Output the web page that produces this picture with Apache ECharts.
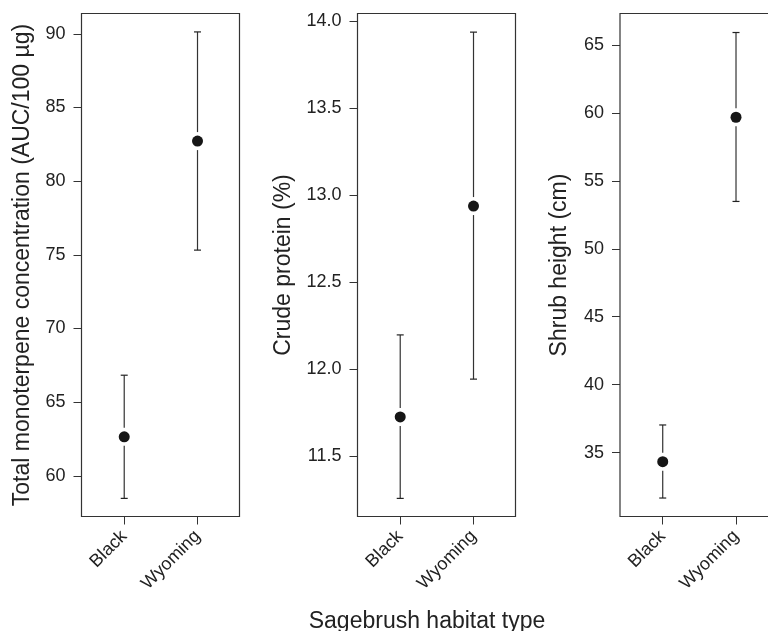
<!DOCTYPE html>
<html>
<head>
<meta charset="utf-8">
<script src="https://cdn.jsdelivr.net/npm/echarts@6/dist/echarts.min.js"></script>
<style>
    html, body { margin: 0; padding: 0; background: #fff; }
    #chart { width: 768px; height: 631px; }
</style>
</head>
<body>
<div id="chart"></div>
<script>
// habitat types, plotted at x = 1, 2
var categories = ['Black', 'Wyoming'];

// total monoterpene concentration (AUC/100 µg)
var monoMean = [62.65, 82.72];
var monoLow = [58.47, 75.32];
var monoHigh = [66.83, 90.13];
var monoTicks = [60, 65, 70, 75, 80, 85, 90];

// crude protein (%)
var proteinMean = [11.725, 12.936];
var proteinLow = [11.257, 11.942];
var proteinHigh = [12.196, 13.935];
var proteinTicks = [11.5, 12.0, 12.5, 13.0, 13.5, 14.0];

// shrub height (cm)
var heightMean = [34.33, 59.69];
var heightLow = [31.65, 53.49];
var heightHigh = [37.03, 65.93];
var heightTicks = [35, 40, 45, 50, 55, 60, 65];

var FONT = "'Liberation Sans', Arial, Helvetica, sans-serif";
var INK = '#222';

var myChart = echarts.init(document.getElementById('chart'));

function pointsOf(mean) {
    return mean.map(function (v, i) { return [i + 1, v]; });
}
function barsOf(mean, low, high) {
    return mean.map(function (v, i) { return [i + 1, v, low[i], high[i]]; });
}

// vertical error bar with a gap around the point and small caps
function renderBar(params, api) {
    var x = api.value(0);
    var pm = api.coord([x, api.value(1)]);
    var pl = api.coord([x, api.value(2)]);
    var ph = api.coord([x, api.value(3)]);
    var gap = 9, cap = 3.5;
    var style = { stroke: '#333', lineWidth: 1.2 };
    return {
        type: 'group',
        children: [
            { type: 'line', shape: { x1: pm[0], y1: ph[1], x2: pm[0], y2: pm[1] - gap }, style: style },
            { type: 'line', shape: { x1: pm[0], y1: pm[1] + gap, x2: pm[0], y2: pl[1] }, style: style },
            { type: 'line', shape: { x1: pm[0] - cap, y1: ph[1], x2: pm[0] + cap, y2: ph[1] }, style: { stroke: '#222', lineWidth: 1.2 } },
            { type: 'line', shape: { x1: pm[0] - cap, y1: pl[1], x2: pm[0] + cap, y2: pl[1] }, style: { stroke: '#222', lineWidth: 1.2 } }
        ]
    };
}

var panels = [
    { left: 81.5, name: 'Total monoterpene concentration (AUC/100 µg)', gap: 47, min: 57.24, max: 91.38,
      ticks: monoTicks, mean: monoMean, low: monoLow, high: monoHigh, fmt: function (v) { return String(v); } },
    { left: 357.5, name: 'Crude protein (%)', gap: 62, min: 11.153, max: 14.042,
      ticks: proteinTicks, mean: proteinMean, low: proteinLow, high: proteinHigh, fmt: function (v) { return v.toFixed(1); } },
    { left: 620, name: 'Shrub height (cm)', gap: 49, min: 30.29, max: 67.33,
      ticks: heightTicks, mean: heightMean, low: heightLow, high: heightHigh, fmt: function (v) { return String(v); } }
];

var grid = [], xAxis = [], yAxis = [], series = [];
panels.forEach(function (p, i) {
    grid.push({
        left: p.left, top: 13.5, width: 158, height: 503,
        outerBoundsMode: 'none', containLabel: false,
        show: true, borderColor: '#333', borderWidth: 1.2, backgroundColor: 'transparent'
    });
    xAxis.push({
        type: 'value', gridIndex: i, min: 0.417, max: 2.573,
        axisLine: { show: false },
        splitLine: { show: false },
        axisTick: { show: true, customValues: [1, 2], length: 8, lineStyle: { color: '#333' } },
        axisLabel: {
            customValues: [1, 2], rotate: 45, margin: 17,
            fontFamily: FONT, fontSize: 18, color: INK,
            formatter: function (v) { return categories[Math.round(v) - 1] || ''; }
        }
    });
    yAxis.push({
        type: 'value', gridIndex: i, min: p.min, max: p.max,
        name: p.name, nameLocation: 'middle', nameGap: p.gap,
        nameTextStyle: { fontFamily: FONT, fontSize: 23, color: INK },
        axisLine: { show: false },
        splitLine: { show: false },
        axisTick: { show: true, customValues: p.ticks, length: 8, lineStyle: { color: '#333' } },
        axisLabel: {
            customValues: p.ticks, margin: 16,
            fontFamily: FONT, fontSize: 18, color: INK,
            formatter: p.fmt
        }
    });
    series.push({
        type: 'custom', xAxisIndex: i, yAxisIndex: i,
        renderItem: renderBar,
        data: barsOf(p.mean, p.low, p.high),
        silent: true, z: 1
    });
    series.push({
        type: 'scatter', xAxisIndex: i, yAxisIndex: i,
        data: pointsOf(p.mean),
        symbol: 'circle', symbolSize: 11,
        itemStyle: { color: '#161616', opacity: 1 },
        silent: true, z: 2
    });
});

var option = {
    animation: false,
    backgroundColor: '#fff',
    grid: grid,
    xAxis: xAxis,
    yAxis: yAxis,
    series: series,
    graphic: [{
        type: 'text', x: 427, y: 622,
        style: {
            text: 'Sagebrush habitat type', fontFamily: FONT, fontSize: 23, fill: INK,
            align: 'center', verticalAlign: 'middle'
        }
    }]
};
myChart.setOption(option);
</script>
</body>
</html>
